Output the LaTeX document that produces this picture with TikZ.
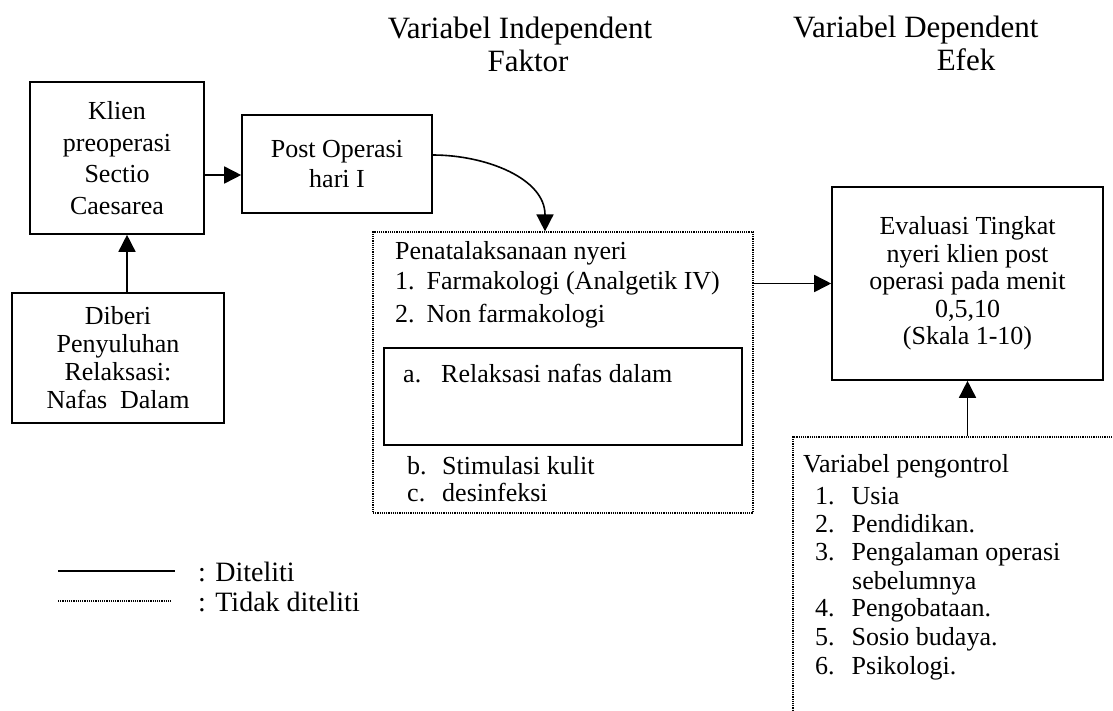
\documentclass[tikz,border=0pt]{standalone}
\usepackage{fontspec}
\setmainfont{Liberation Serif}
\usetikzlibrary{arrows.meta}

\begin{document}
\begin{tikzpicture}[x=1pt,y=-1pt,
  box/.style={draw, line width=1.6pt, align=center, inner sep=0pt,
    font=\fontsize{26}{30}\selectfont},
  dotbox/.style={draw, densely dotted, line width=1.2pt, inner sep=0pt},
  arr/.style={line width=1.6pt, -{Triangle[length=17pt,width=17pt]}},
  txt/.style={anchor=base west, inner sep=0pt, font=\fontsize{26}{30}\selectfont},
  head/.style={anchor=base, inner sep=0pt, font=\fontsize{31}{34}\selectfont}]

\useasboundingbox (0,0) rectangle (1113,710);

% titles
\node[head] (indep) at (520,38) {Variabel Independent};
\node[head] (faktor) at (528,71) {Faktor};
\node[head, anchor=base west] (dep) at (793,37) {Variabel Dependent};
\node[head] (efek) at (966,70) {Efek};

% left column
\node[box, minimum width=174pt, minimum height=152pt,
  font=\fontsize{26}{31.5}\selectfont] (klien) at (117,158)
  {Klien\\preoperasi\\Sectio\\Caesarea};
\node[box, minimum width=212pt, minimum height=130pt,
  font=\fontsize{26}{28}\selectfont] (diberi) at (118,358)
  {Diberi\\Penyuluhan\\Relaksasi:\\Nafas\ \ Dalam};
\node[box, minimum width=190pt, minimum height=98pt] (post) at (337,164)
  {Post Operasi\\hari I};

% pain management (not studied)
\node[dotbox, minimum width=380pt, minimum height=281pt] (manage) at (563,372.5) {};
\node[box, minimum width=358pt, minimum height=97pt] (relax) at (563,396.5) {};
\node[txt] (pena) at (395,259) {Penatalaksanaan nyeri};
\node[txt] (m1) at (395,289) {1.\hspace{12pt}Farmakologi (Analgetik IV)};
\node[txt] (m2) at (395,322) {2.\hspace{12pt}Non farmakologi};
\node[txt] (ma) at (403,382) {a.\hspace{20pt}Relaksasi nafas dalam};
\node[txt] (mb) at (407,474) {b.};
\node[txt] (mbt) at (442,474) {Stimulasi kulit};
\node[txt] (mc) at (407,501) {c.};
\node[txt] (mct) at (442,501) {desinfeksi};

% effect
\node[box, minimum width=271pt, minimum height=193pt,
  font=\fontsize{26}{27.5}\selectfont] (eval) at (967.5,283.5)
  {Evaluasi Tingkat\\nyeri klien post\\operasi pada menit\\0,5,10\\(Skala 1-10)};

% control variables (not studied)
\node[dotbox, minimum width=340pt, minimum height=330pt] (ctrl) at (963,602) {};
\node[txt] (vp) at (803,472) {Variabel pengontrol};
\foreach \i/\t/\y in {1/Usia/504, 2/Pendidikan./532, 3/Pengalaman operasi/560,
  4/Pengobataan./616, 5/Sosio budaya./645, 6/Psikologi./674}
  \node[txt] (c\i) at (815,\y) {\i.\hspace{17pt}\t};
\node[txt] (c3b) at (852,589) {sebelumnya};

% arrows
\draw[arr] ([xshift=9pt]diberi.north) -- ([xshift=9pt]diberi.north |- klien.south);
\draw[arr] ([yshift=-17pt]klien.east) -- ([yshift=-17pt]klien.east -| post.west);
\draw[arr] ([yshift=9pt]post.east) to[out=0,in=90] ([xshift=-18pt]manage.north);
\draw[arr] (manage.east |- eval.west) -- (eval.west);
\draw[arr] (ctrl.north -| eval.south) -- (eval.south);

% legend
\coordinate (l1a) at (58,571);
\coordinate (l1b) at (175,571);
\coordinate (l2a) at (58,601);
\coordinate (l2b) at (172,601);
\draw[line width=1.6pt] (l1a) -- (l1b);
\draw[densely dotted, line width=1.2pt] (l2a) -- (l2b);
\node[txt, font=\fontsize{28}{30}\selectfont] (leg1) at (198,581) {: Diteliti};
\node[txt, font=\fontsize{28}{30}\selectfont] (leg2) at (198,611) {: Tidak diteliti};

\end{tikzpicture}
\end{document}
